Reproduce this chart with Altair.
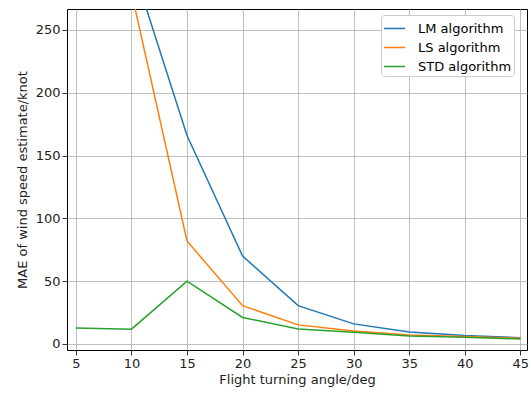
import altair as alt
import pandas as pd

angles = [5, 10, 15, 20, 25, 30, 35, 40, 45]
lm_angles = [10, 15, 20, 25, 30, 35, 40, 45]
lm_values = [304, 166, 70, 30.5, 16, 9.6, 6.7, 5.0]
ls_angles = [10, 15, 20, 25, 30, 35, 40, 45]
ls_values = [280, 82, 30.5, 15.2, 10.4, 7.2, 5.9, 4.6]
std_values = [12.8, 11.8, 50, 21.1, 12.0, 9.4, 6.4, 5.3, 4.0]
series = ["LM algorithm", "LS algorithm", "STD algorithm"]
colors = ["#1f77b4", "#ff7f0e", "#2ca02c"]
x_ticks = [5, 10, 15, 20, 25, 30, 35, 40, 45]
y_ticks = [0, 50, 100, 150, 200, 250]

rows = []
for a, v in zip(lm_angles, lm_values):
    rows.append({"angle": a, "mae": v, "series": series[0], "order": 0})
for a, v in zip(ls_angles, ls_values):
    rows.append({"angle": a, "mae": v, "series": series[1], "order": 1})
for a, v in zip(angles, std_values):
    rows.append({"angle": a, "mae": v, "series": series[2], "order": 2})
df = pd.DataFrame(rows)

font = "DejaVu Sans"

chart = alt.Chart(df).mark_line(clip=True, strokeWidth=1.5).encode(
    x=alt.X("angle:Q",
            scale=alt.Scale(domain=[4.2, 45.6], nice=False, zero=False),
            axis=alt.Axis(values=x_ticks, title="Flight turning angle/deg", format="d")),
    y=alt.Y("mae:Q",
            scale=alt.Scale(domain=[-4.8, 266.7], nice=False, zero=False),
            axis=alt.Axis(values=y_ticks, title="MAE of wind speed estimate/knot", format="d")),
    color=alt.Color("series:N",
                    scale=alt.Scale(domain=series, range=colors),
                    legend=alt.Legend(title=None, orient="none", legendX=314, legendY=6,
                                      symbolType="stroke", symbolSize=450,
                                      symbolStrokeWidth=1.5,
                                      labelFontSize=13, labelFont=font,
                                      labelColor="#000000", labelOffset=12,
                                      fillColor="white", strokeColor="#cccccc",
                                      cornerRadius=3, padding=2, rowPadding=-1.5)),
    detail="series:N",
    order="order:Q",
).properties(
    width=460, height=341,
    autosize=alt.AutoSizeParams(type="none"),
    padding={"left": 67, "top": 9, "right": 4, "bottom": 44},
).configure_view(
    stroke="#000000", strokeWidth=1
).configure_axis(
    grid=True, gridColor="#b0b0b0", gridWidth=0.8,
    domain=False,
    tickColor="#000000", tickSize=5, tickWidth=0.8,
    labelFont=font, labelFontSize=13, labelColor="#222222", labelPadding=2,
    titleFont=font, titleFontSize=13, titleFontWeight="normal", titleColor="#222222",
).configure_axisX(
    titlePadding=3
).configure_axisY(
    titlePadding=6
)

chart.save("out.html", embed_options={"renderer": "svg", "actions": False})
